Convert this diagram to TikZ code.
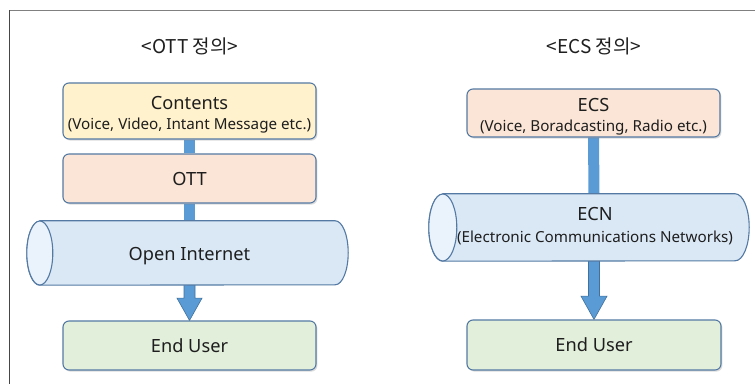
\documentclass[tikz,border=0pt]{standalone}
\usepackage{fontspec}
\setmainfont{Noto Sans}
\newfontfamily\krfont{Noto Sans CJK KR}
\usetikzlibrary{calc,shadows,backgrounds}

\definecolor{edgeblue}{RGB}{84,122,164}
\definecolor{barblue}{RGB}{91,155,213}
\definecolor{baredge}{RGB}{65,113,156}
\definecolor{fillyellow}{RGB}{255,242,204}
\definecolor{fillpeach}{RGB}{251,229,214}
\definecolor{fillgreen}{RGB}{226,239,218}
\definecolor{fillpipe}{RGB}{218,232,246}
\definecolor{fillpipeend}{RGB}{234,242,251}
\definecolor{framegray}{RGB}{128,128,128}
\definecolor{framedark}{RGB}{70,70,70}
\definecolor{inkgray}{RGB}{30,30,30}

\tikzset{
  layerbox/.style={draw=edgeblue, line width=1.1pt, rounded corners=6pt,
    align=center, text=inkgray, inner sep=0pt,
    drop shadow={shadow xshift=1.4pt, shadow yshift=-1.6pt, opacity=0.28}},
  pipezone/.style={inner sep=0pt, align=center, text=inkgray},
  mainlabel/.style={font=\fontsize{18.2}{21}\selectfont},
  sublabel/.style={font=\fontsize{15.2}{18}\selectfont},
  heading/.style={text=inkgray, font=\krfont\fontsize{19}{22}\selectfont},
  barline/.style={line width=11pt, barblue},
  arrowbody/.style={fill=barblue, draw=baredge, line width=0.6pt, line join=miter},
  pipeline/.style={draw=edgeblue, line width=1.1pt}
}

% Draws a horizontal pipe whose open end faces left, fitted to a named node;
% radii are given in pt so that they are not affected by the flipped y axis
\newcommand{\pipeshape}[2]{% #1 node name, #2 end radius
  \path[pipeline, fill=fillpipe]
    ($(#1.north west)+(#2,0)$) -- ($(#1.north east)+(-#2,0)$)
    arc[start angle=90, end angle=-90, x radius=#2pt, y radius=\pipeh pt/2]
    -- ($(#1.south west)+(#2,0)$)
    arc[start angle=270, end angle=90, x radius=#2pt, y radius=\pipeh pt/2] -- cycle;
  \path[pipeline, fill=fillpipeend]
    ($(#1.west)+(#2,0)$) ellipse[x radius=#2pt, y radius=\pipeh pt/2];
}

\begin{document}
\begin{tikzpicture}[x=1pt, y=-1pt]
  \useasboundingbox (0,0) rectangle (755,387);

  % outer frame (top and left rules)
  \draw[framegray, line width=1.8pt] (754.5,10.5) -- (9.5,10.5);
  \draw[framedark, line width=1.3pt] (9.5,10.5) -- (9.5,384);

  % headings
  \node[heading] (ottTitle) at (190,46) {<OTT 정의>};
  \node[heading] (ecsTitle) at (594,46) {<ECS 정의>};

  % ---------- OTT stack ----------
  \node[layerbox, fill=fillyellow, minimum width=253pt, minimum height=56pt]
    (contents) at (189.5,111) {};
  \node[mainlabel, text=inkgray] (contentsA) at (189.5,103) {Contents};
  \node[sublabel, text=inkgray] (contentsB) at (189.5,125.5) {(Voice, Video, Intant Message etc.)};

  \node[layerbox, fill=fillpeach, minimum width=253pt, minimum height=49pt, mainlabel]
    (ott) at (189.5,178.5) {OTT};

  \node[pipezone, minimum width=321pt, minimum height=64pt] (inet) at (187.5,253) {};

  \node[layerbox, fill=fillgreen, minimum width=253pt, minimum height=49pt, mainlabel]
    (userA) at (189.5,345.5) {End User};

  % ---------- ECS stack ----------
  \node[layerbox, fill=fillpeach, minimum width=253pt, minimum height=48pt]
    (ecs) at (593.5,113) {};
  \node[mainlabel, text=inkgray] (ecsA) at (593.5,105) {ECS};
  \node[sublabel, text=inkgray] (ecsB) at (593.5,127.5) {(Voice, Boradcasting, Radio etc.)};

  \node[pipezone, minimum width=320pt, minimum height=67pt] (ecn) at (589,227.5) {};

  \node[layerbox, fill=fillgreen, minimum width=254pt, minimum height=50pt, mainlabel]
    (userB) at (594,345) {End User};

  % pipes
  \def\pipeh{64}
  \pipeshape{inet}{13}
  \node[mainlabel, text=inkgray] (inetLabel) at ($(inet.center)+(2,3)$) {Open Internet};
  \def\pipeh{67}
  \pipeshape{ecn}{14}
  \node[mainlabel, text=inkgray] (ecnA) at ($(ecn.center)+(6,-13)$) {ECN};
  \node[sublabel, text=inkgray] (ecnB) at ($(ecn.center)+(6,10)$) {(Electronic Communications Networks)};

  % connectors behind the layers
  \begin{scope}[on background layer]
    \fill[white] (0,0) rectangle (755,387);
    \draw[barline] (contents.south) -- (ott.north);
    \draw[barline] (ott.south) -- ($(inet.north)+(2,0)$);
    \draw[barline] (ecs.south) -- ($(ecn.north)+(5,0)$);
    % block arrows into the end users
    \path[arrowbody]
      ($(inet.south)+(-3.5,-1)$) -- ($(inet.south)+(7.5,-1)$)
      -- ($(inet.south)+(7.5,13)$) -- ($(inet.south)+(14.5,13)$)
      -- (userA.north) -- ($(inet.south)+(-10.5,13)$)
      -- ($(inet.south)+(-3.5,13)$) -- cycle;
    \path[arrowbody]
      ($(ecn.south)+(-0.5,-1)$) -- ($(ecn.south)+(10.5,-1)$)
      -- ($(ecn.south)+(10.5,35)$) -- ($(ecn.south)+(18,35)$)
      -- (userB.north) -- ($(ecn.south)+(-8,35)$)
      -- ($(ecn.south)+(-0.5,35)$) -- cycle;
  \end{scope}
\end{tikzpicture}
\end{document}
